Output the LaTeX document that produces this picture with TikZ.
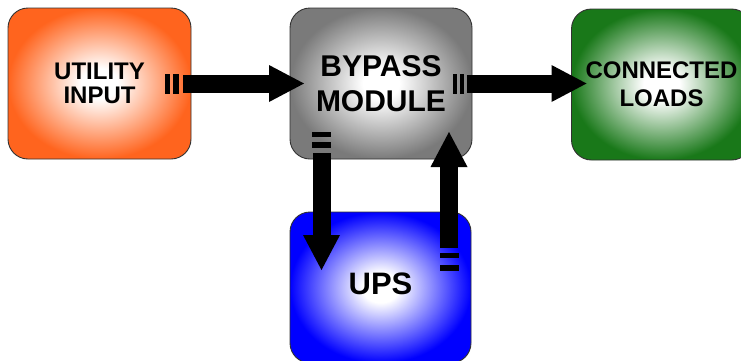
\documentclass[tikz,border=0pt]{standalone}
\usepackage{fontspec}
\setmainfont{Liberation Sans}
\usetikzlibrary{arrows.meta,calc}
\definecolor{cOrange}{RGB}{255,100,30}
\definecolor{cGray}{RGB}{122,122,122}
\definecolor{cGreen}{RGB}{25,120,25}
\definecolor{cBlue}{RGB}{0,0,255}
\definecolor{cBorder}{RGB}{50,50,50}
\pgfdeclareradialshading{shOrange}{\pgfpoint{0bp}{0bp}}{color(0bp)=(white); color(5bp)=(white); color(25bp)=(cOrange); color(50bp)=(cOrange)}
\pgfdeclareradialshading{shGray}{\pgfpoint{0bp}{0bp}}{color(0bp)=(white); color(5bp)=(white); color(25bp)=(cGray); color(50bp)=(cGray)}
\pgfdeclareradialshading{shGreen}{\pgfpoint{0bp}{0bp}}{color(0bp)=(white); color(5bp)=(white); color(25bp)=(cGreen); color(50bp)=(cGreen)}
\pgfdeclareradialshading{shBlue}{\pgfpoint{0bp}{0bp}}{color(0bp)=(white); color(5bp)=(white); color(25bp)=(cBlue); color(50bp)=(cBlue)}
\tikzset{
  unitbox/.style={rectangle, rounded corners=20pt, draw=cBorder, line width=0.9pt,
    shade, shading=#1, inner sep=0pt, outer sep=0pt, align=center,
    minimum height=151pt, text=black},
  bigarrow/.style={line width=18pt, draw=black,
    -{Triangle[length=35pt,width=37pt,line width=0pt]}},
  plugbar/.style={fill=black, draw=none}
}
\begin{document}
\begin{tikzpicture}[x=1pt,y=-1pt]
\useasboundingbox (0,0) rectangle (741,360);
% boxes
\node[unitbox=shOrange, minimum width=183pt, font=\fontsize{24pt}{24pt}\selectfont\bfseries]
  (util) at (99.5,83.5) {UTILITY\\INPUT};
\node[unitbox=shGray, minimum width=182pt, font=\fontsize{30pt}{35pt}\selectfont\bfseries]
  (byp) at (381,83.5) {BYPASS\\MODULE};
\node[unitbox=shGreen, minimum width=180pt, font=\fontsize{24pt}{28pt}\selectfont\bfseries]
  (loads) at (661.5,84.5) {CONNECTED\\LOADS};
\node[unitbox=shBlue, minimum width=181pt, text depth=7pt, font=\fontsize{31pt}{31pt}\selectfont\bfseries]
  (ups) at (380.5,287.5) {UPS};
% connector end points
\coordinate (a1s) at ($(util.east)+(-8,0)$);
\coordinate (a1e) at ($(byp.west)+(14,0)$);
\coordinate (a2s) at ($(byp.east)+(-5,0)$);
\coordinate (a2e) at ($(loads.west)+(15,-1)$);
\coordinate (a3s) at ($(byp.south)+(-59.5,-6)$);
\coordinate (a3e) at ($(ups.north)+(-59,58)$);
\coordinate (a4s) at ($(ups.north)+(68.5,36)$);
\coordinate (a4e) at ($(byp.south)+(68,-27)$);
% plug bars
\fill[plugbar] ($(a1s)+(-18,-10)$) rectangle ($(a1s)+(-13,10)$);
\fill[plugbar] ($(a1s)+(-10,-10)$) rectangle ($(a1s)+(-4,10)$);
\fill[plugbar] ($(a2s)+(-14,-10)$) rectangle ($(a2s)+(-10,10)$);
\fill[plugbar] ($(a2s)+(-7,-10)$) rectangle ($(a2s)+(-3,10)$);
\fill[plugbar] ($(a3s)+(-9.5,-21)$) rectangle ($(a3s)+(9.5,-16)$);
\fill[plugbar] ($(a3s)+(-9.5,-11)$) rectangle ($(a3s)+(9.5,-5)$);
\fill[plugbar] ($(a4s)+(-9.5,5)$) rectangle ($(a4s)+(9.5,10)$);
\fill[plugbar] ($(a4s)+(-9.5,17)$) rectangle ($(a4s)+(9.5,23)$);
% arrows
\draw[bigarrow] (a1s) -- (a1e);
\draw[bigarrow] (a2s) -- (a2e);
\draw[bigarrow] (a3s) -- (a3e);
\draw[bigarrow] (a4s) -- (a4e);
\end{tikzpicture}
\end{document}
